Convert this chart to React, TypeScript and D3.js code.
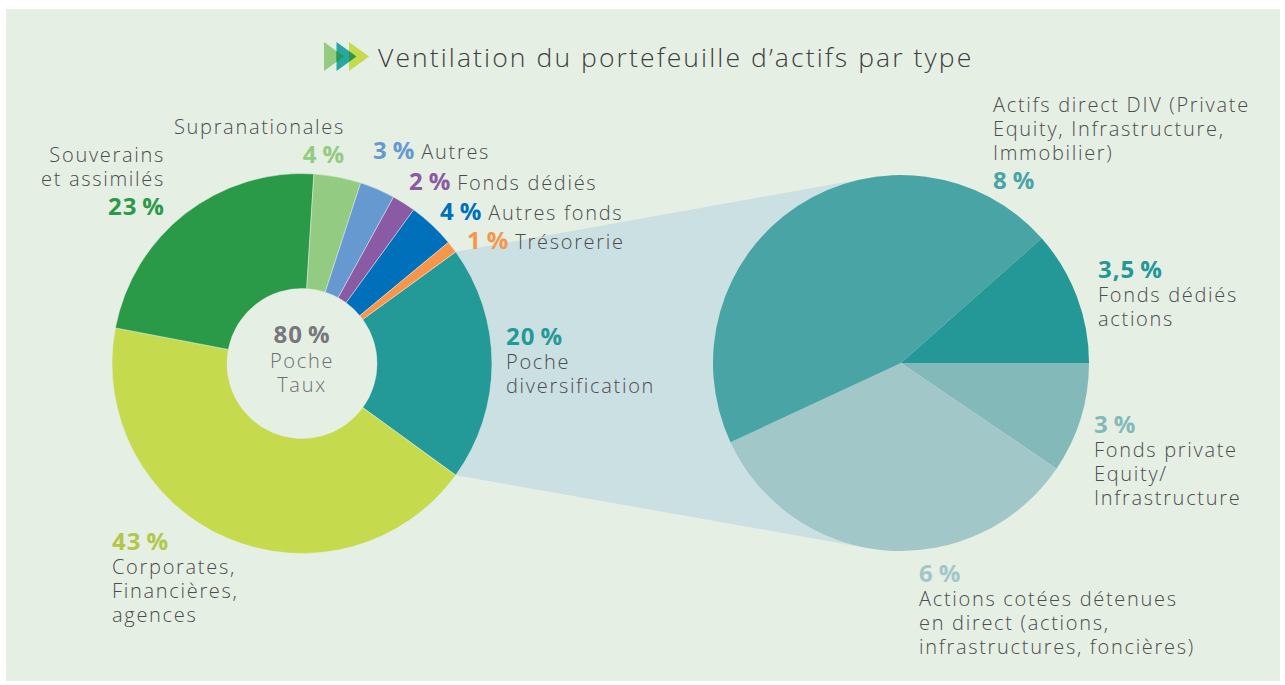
import * as d3 from "d3";

// Répartition du portefeuille (en % du total)
const poolLabels = [
  "Poche diversification",
  "Corporates, Financières, agences",
  "Souverains et assimilés",
  "Supranationales",
  "Autres",
  "Fonds dédiés",
  "Autres fonds",
  "Trésorerie",
];
const poolValues = [20, 43, 23, 4, 3, 2, 4, 1];
const poolColors = ["#239a98", "#c5da4d", "#2a9a48", "#93cb82", "#6699cf", "#8b5aa5", "#0070ba", "#f7964a"];
const poolTextColors = ["#239a98", "#b3c64a", "#2a9a48", "#93cb82", "#6699cf", "#8b5aa5", "#0070ba", "#f7964a"];

// Détail de la poche diversification
const diversLabels = [
  "Fonds private Equity/ Infrastructure",
  "Actions cotées détenues en direct (actions, infrastructures, foncières)",
  "Actifs direct DIV (Private Equity, Infrastructure, Immobilier)",
  "Fonds dédiés actions",
];
const diversValues = [3, 6, 8, 3.5]; // valeurs affichées
const diversShares = [1.9, 6.72, 9.08, 2.31]; // parts telles que dessinées sur le camembert
const diversColors = ["#84b9ba", "#a1c7c9", "#49a4a5", "#239897"];

const centerValue = 80;
const centerLabel = ["Poche", "Taux"];
const title = "Ventilation du portefeuille d’actifs par type";

const W = 1285;
const H = 685;
const BG = "#e6efe4";
const TXT = "#4b4c4e";
const FONT = "'Open Sans', sans-serif";
const LS = 1.7; // espacement des lettres, texte courant
const LS_B = 1; // espacement des lettres, pourcentages

const pct = (v: number) => `${String(v).replace(".", ",")}\u2009%`;

// emplacement des étiquettes
const poolLabelPos: { x: number; y: number; anchor: string; mode: string; lines: string[] }[] = [
  { x: 506, y: 345, anchor: "start", mode: "pctFirst", lines: ["Poche", "diversification"] },
  { x: 112, y: 550, anchor: "start", mode: "pctFirst", lines: ["Corporates,", "Financières,", "agences"] },
  { x: 165, y: 162, anchor: "end", mode: "pctLast", lines: ["Souverains", "et assimilés"] },
  { x: 345, y: 134, anchor: "end", mode: "pctLast", lines: ["Supranationales"] },
  { x: 373, y: 159, anchor: "start", mode: "inline", lines: ["Autres"] },
  { x: 409, y: 190, anchor: "start", mode: "inline", lines: ["Fonds dédiés"] },
  { x: 440, y: 220, anchor: "start", mode: "inline", lines: ["Autres fonds"] },
  { x: 467, y: 249, anchor: "start", mode: "inline", lines: ["Trésorerie"] },
];
const diversLabelPos: { x: number; y: number; anchor: string; mode: string; lines: string[] }[] = [
  { x: 1094, y: 433, anchor: "start", mode: "pctFirst", lines: ["Fonds private", "Equity/", "Infrastructure"] },
  { x: 919, y: 582, anchor: "start", mode: "pctFirst", lines: ["Actions cotées détenues", "en direct (actions,", "infrastructures, foncières)"] },
  { x: 993, y: 112, anchor: "start", mode: "pctLast", lines: ["Actifs direct DIV (Private", "Equity, Infrastructure,", "Immobilier)"] },
  { x: 1098, y: 278, anchor: "start", mode: "pctFirst", lines: ["Fonds dédiés", "actions"] },
];

const LH = 24;

function Label({ pos, value, color }: { pos: any; value: number; color: string }) {
  if (pos.mode === "inline") {
    return (
      <text x={pos.x} y={pos.y} fontFamily={FONT} fontSize={20} fill={TXT} fontWeight={300} letterSpacing={LS}>
        <tspan fontWeight={700} fontSize={24} fill={color} letterSpacing={LS_B}>
          {pct(value)}
        </tspan>
        <tspan dx={6}>{pos.lines[0]}</tspan>
      </text>
    );
  }
  const pctY = pos.mode === "pctFirst" ? pos.y : pos.y + (pos.lines.length - 1) * LH + 29;
  const lineY0 = pos.mode === "pctFirst" ? pos.y + LH : pos.y;
  return (
    <g fontFamily={FONT} textAnchor={pos.anchor}>
      <text x={pos.x} y={pctY} fontWeight={700} fontSize={24} fill={color} letterSpacing={LS_B}>
        {pct(value)}
      </text>
      {pos.lines.map((l: string, i: number) => (
        <text key={i} x={pos.x} y={lineY0 + i * LH} fontSize={20} fontWeight={300} fill={TXT} letterSpacing={LS}>
          {l}
        </text>
      ))}
    </g>
  );
}

export default function App() {
  const c1 = { x: 302, y: 363.5 };
  const r1 = 190;
  const rIn = 75;
  const c2 = { x: 901, y: 363 };
  const r2 = 188;

  // la poche diversification est centrée sur l'horizontale droite
  const start1 = Math.PI / 2 - (poolValues[0] / d3.sum(poolValues)) * Math.PI;
  const pie1 = d3
    .pie<number>()
    .sort(null)
    .startAngle(start1)
    .endAngle(start1 + 2 * Math.PI)(poolValues);
  const arc1 = d3.arc<d3.PieArcDatum<number>>().innerRadius(rIn).outerRadius(r1);

  const pie2 = d3
    .pie<number>()
    .sort(null)
    .startAngle(Math.PI / 2)
    .endAngle(Math.PI / 2 + 2 * Math.PI)(diversShares);
  const arc2 = d3.arc<d3.PieArcDatum<number>>().innerRadius(0).outerRadius(r2);

  // liaison entre les deux camemberts : tangentes depuis les bords de la tranche
  const edge = (a: number) => ({ x: c1.x + r1 * Math.sin(a), y: c1.y - r1 * Math.cos(a) });
  const tangent = (p: { x: number; y: number }, sign: number) => {
    const dx = c2.x - p.x;
    const dy = c2.y - p.y;
    const d = Math.hypot(dx, dy);
    const th = Math.asin(r2 / d) * sign;
    const L = Math.sqrt(d * d - r2 * r2);
    const ux = dx / d;
    const uy = dy / d;
    return {
      x: p.x + L * (ux * Math.cos(th) - uy * Math.sin(th)),
      y: p.y + L * (ux * Math.sin(th) + uy * Math.cos(th)),
    };
  };
  const p1 = edge(pie1[0].startAngle);
  const p2 = edge(pie1[0].endAngle);
  const t1 = tangent(p1, -1);
  const t2 = tangent(p2, 1);
  const link = [p1, t1, c2, t2, p2].map((p) => `${p.x},${p.y}`).join(" ");

  // pictogramme du titre
  const chevW = 20;
  const chevH = 29;
  const chevX = 324;
  const chevY = 42;
  const chevStep = 12.5;
  const chevColors = ["#93cb82", "#26a7a5", "#c5da4d"];
  const tri = (x: number) => `${x},${chevY} ${x + chevW},${chevY + chevH / 2} ${x},${chevY + chevH}`;
  const overlap = (x: number) => {
    const h = (chevH / 2) * (1 - chevStep / chevW);
    const m = chevY + chevH / 2;
    return `${x + chevStep},${m - h} ${x + chevW},${m} ${x + chevStep},${m + h}`;
  };

  return (
    <svg width={W} height={H} style={{ position: "fixed", left: 0, top: 0 }}>
      <rect x={0} y={0} width={W} height={H} fill="#ffffff" />
      <rect x={6} y={9} width={1274} height={672} fill={BG} />

      {chevColors.map((c, i) => (
        <polygon key={i} points={tri(chevX + i * chevStep)} fill={c} />
      ))}
      {[0, 1].map((i) => (
        <polygon key={i} points={overlap(chevX + i * chevStep)} fill="#2a9a48" />
      ))}
      <text x={378} y={67} fontFamily={FONT} fontSize={26.5} fontWeight={300} fill="#3d3e40" letterSpacing={2.1}>
        {title}
      </text>

      <polygon points={link} fill="#cbe0e2" />

      <g transform={`translate(${c1.x},${c1.y})`}>
        {pie1.map((d, i) => (
          <path key={poolLabels[i]} d={arc1(d) || ""} fill={poolColors[i]} stroke={BG} strokeWidth={0.5} />
        ))}
      </g>
      <g transform={`translate(${c2.x},${c2.y})`}>
        {pie2.map((d, i) => (
          <path key={diversLabels[i]} d={arc2(d) || ""} fill={diversColors[i]} />
        ))}
      </g>

      <g fontFamily={FONT} textAnchor="middle">
        <text x={c1.x} y={343} fontSize={24} fontWeight={700} fill="#77787b" letterSpacing={LS_B}>
          {pct(centerValue)}
        </text>
        {centerLabel.map((l, i) => (
          <text key={l} x={c1.x} y={368 + i * LH} fontSize={20} fontWeight={300} fill="#6d6e70" letterSpacing={LS}>
            {l}
          </text>
        ))}
      </g>

      {poolLabelPos.map((p, i) => (
        <Label key={poolLabels[i]} pos={p} value={poolValues[i]} color={poolTextColors[i]} />
      ))}
      {diversLabelPos.map((p, i) => (
        <Label key={diversLabels[i]} pos={p} value={diversValues[i]} color={diversColors[i]} />
      ))}
    </svg>
  );
}
